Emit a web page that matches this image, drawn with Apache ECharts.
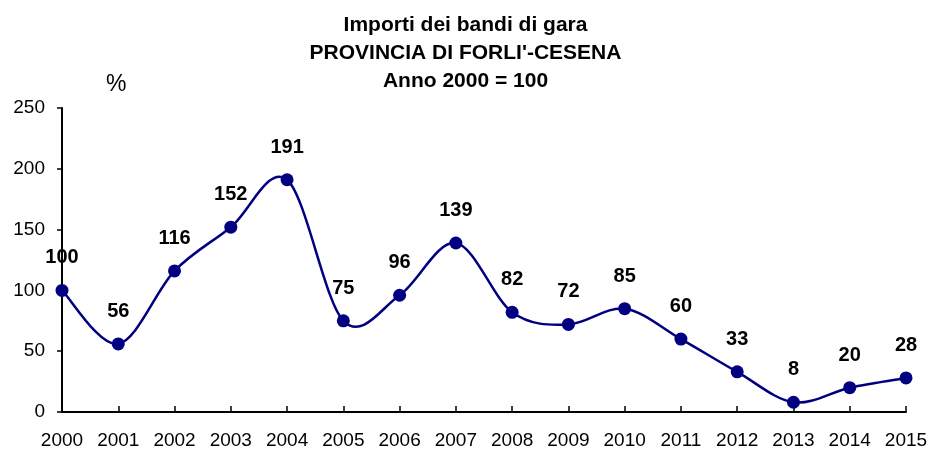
<!DOCTYPE html>
<html>
<head>
<meta charset="utf-8">
<script src="https://cdn.jsdelivr.net/npm/echarts@6/dist/echarts.min.js"></script>
<style>
html,body{margin:0;padding:0;background:#fff;}
#chart{width:931px;height:450px;}
</style>
</head>
<body>
<div id="chart"></div>
<script>
var years = ['2000','2001','2002','2003','2004','2005','2006','2007','2008','2009','2010','2011','2012','2013','2014','2015'];
var values = [100,56,116,152,191,75,96,139,82,72,85,60,33,8,20,28];
var yTicks = [0,50,100,150,200,250];
var titleLines = ['Importi dei bandi di gara', "PROVINCIA DI FORLI'-CESENA", 'Anno 2000 = 100'];
var unitLabel = '%';

var FONT = '"Liberation Sans", Arial, sans-serif';
var LINE_COLOR = '#000080';

// Smooth curve (Catmull-Rom style, as in spreadsheet charts) through points mapped by the axes
function renderCurve(params, api) {
  if (params.dataIndex !== 0) return null;
  var pts = values.map(function (v, i) { return api.coord([i, v]); });
  var n = pts.length;
  var d = 'M' + pts[0][0] + ' ' + pts[0][1];
  for (var i = 0; i < n - 1; i++) {
    var p0 = pts[Math.max(i - 1, 0)], p1 = pts[i], p2 = pts[i + 1], p3 = pts[Math.min(i + 2, n - 1)];
    var c1x = p1[0] + (p2[0] - p0[0]) / 6, c1y = p1[1] + (p2[1] - p0[1]) / 6;
    var c2x = p2[0] - (p3[0] - p1[0]) / 6, c2y = p2[1] - (p3[1] - p1[1]) / 6;
    d += ' C' + c1x + ' ' + c1y + ' ' + c2x + ' ' + c2y + ' ' + p2[0] + ' ' + p2[1];
  }
  return {
    type: 'path',
    shape: {pathData: d},
    style: {stroke: LINE_COLOR, lineWidth: 2.5, fill: 'none'}
  };
}

var chart = echarts.init(document.getElementById('chart'));
chart.setOption({
  backgroundColor: '#ffffff',
  animation: false,
  title: {
    text: titleLines.join('\n'),
    left: 'center',
    top: 11,
    padding: 0,
    textStyle: {fontFamily: FONT, fontSize: 21, fontWeight: 'bold', color: '#000', lineHeight: 28}
  },
  graphic: [{
    type: 'text',
    left: 106,
    top: 73,
    style: {text: unitLabel, fontFamily: FONT, fontSize: 23, fill: '#000'}
  }],
  grid: {left: 62, right: 25, top: 108, bottom: 38, containLabel: false},
  xAxis: {
    type: 'category',
    data: years,
    boundaryGap: false,
    axisLine: {lineStyle: {color: '#000', width: 2}},
    axisTick: {inside: true, length: 6, lineStyle: {color: '#000', width: 1.5}},
    axisLabel: {fontFamily: FONT, fontSize: 19, color: '#000', margin: 19}
  },
  yAxis: {
    type: 'value',
    min: yTicks[0],
    max: yTicks[yTicks.length - 1],
    interval: yTicks[1] - yTicks[0],
    splitLine: {show: false},
    axisLine: {show: true, lineStyle: {color: '#000', width: 2}},
    axisTick: {show: true, inside: false, length: 5, lineStyle: {color: '#000', width: 1.5}},
    axisLabel: {fontFamily: FONT, fontSize: 19, color: '#000', margin: 17}
  },
  series: [{
    type: 'custom',
    data: values.map(function (v, i) { return [i, v]; }),
    renderItem: renderCurve,
    z: 1,
    silent: true
  }, {
    type: 'line',
    data: values,
    symbol: 'circle',
    symbolSize: 13,
    lineStyle: {opacity: 0},
    itemStyle: {color: LINE_COLOR},
    z: 3,
    label: {
      show: true,
      position: 'top',
      distance: 16,
      fontFamily: FONT,
      fontSize: 20,
      fontWeight: 'bold',
      color: '#000'
    }
  }]
});
</script>
</body>
</html>
